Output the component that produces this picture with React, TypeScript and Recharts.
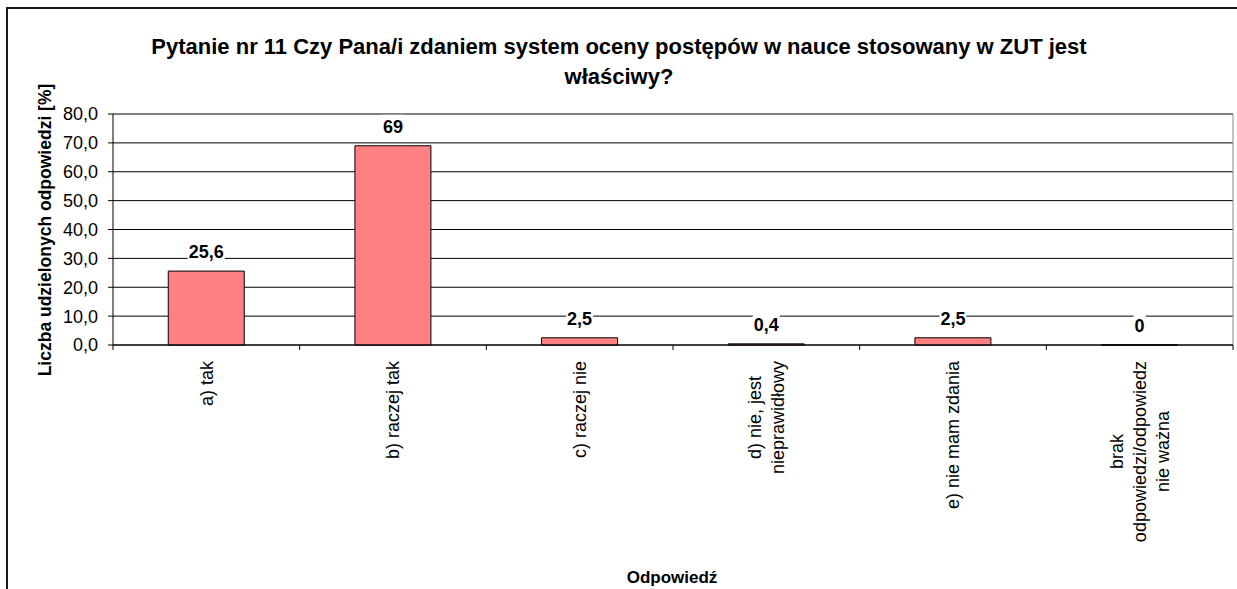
import React from "react";
import { BarChart, Bar, XAxis, YAxis, CartesianGrid, LabelList } from "recharts";

const categories = [
  "a) tak",
  "b) raczej tak",
  "c) raczej nie",
  "d) nie, jest\nnieprawidłowy",
  "e) nie mam zdania",
  "brak\nodpowiedzi/odpowiedz\nnie ważna",
];
const values = [25.6, 69, 2.5, 0.4, 2.5, 0];
const yTicks = [0, 10, 20, 30, 40, 50, 60, 70, 80];

const titleLines = [
  "Pytanie nr 11 Czy Pana/i zdaniem system oceny postępów w nauce stosowany w ZUT jest",
  "właściwy?",
];
const yTitle = "Liczba udzielonych odpowiedzi [%]";
const xTitle = "Odpowiedź";

const data = categories.map((c, i) => ({ name: c, value: values[i] }));

const FONT = "'Liberation Sans', Arial, sans-serif";
const W = 1237;
const H = 589;
const PLOT_LEFT = 113;
const PLOT_RIGHT = 1233;
const PLOT_TOP = 114;
const PLOT_BOTTOM = 345;
const BAND = (PLOT_RIGHT - PLOT_LEFT) / categories.length;
const TICK_FS = 18;
const LINE_H = 23;

let ctx: CanvasRenderingContext2D | null = null;
function measure(text: string, font: string): number {
  if (!ctx) {
    const c = document.createElement("canvas");
    ctx = c.getContext("2d");
  }
  if (!ctx) return text.length * 9;
  ctx.font = font;
  return ctx.measureText(text).width;
}

const fmt = (v: number) => String(v).replace(".", ",");

function XTick(props: any) {
  const { x, y, payload, index } = props;
  const lines: string[] = String(payload.value).split("\n");
  const maxW = Math.max(...lines.map((l) => measure(l, `${TICK_FS}px Liberation Sans`)));
  const top = y + 8;
  const n = lines.length;
  return (
    <g>
      <line x1={x - BAND / 2} x2={x - BAND / 2} y1={PLOT_BOTTOM} y2={PLOT_BOTTOM + 5} stroke="#000" />
      {index === categories.length - 1 && (
        <line x1={x + BAND / 2} x2={x + BAND / 2} y1={PLOT_BOTTOM} y2={PLOT_BOTTOM + 5} stroke="#000" />
      )}
      <g transform={`translate(${x},${top}) rotate(-90)`}>
        {lines.map((l, i) => (
          <text
            key={i}
            x={-maxW / 2}
            y={(i - (n - 1) / 2) * LINE_H}
            dy="0.35em"
            textAnchor="middle"
            fontSize={TICK_FS}
            fontFamily={FONT}
            fill="#000"
          >
            {l}
          </text>
        ))}
      </g>
    </g>
  );
}

function ValueLabel(props: any) {
  const { x, y, width, value } = props;
  if (x == null || y == null) return null;
  const cx = x + width / 2;
  const cy = y - 19;
  const txt = fmt(Number(value));
  const fs = 18;
  const w = measure(txt, `bold ${fs}px Liberation Sans`);
  return (
    <g>
      <rect x={cx - w / 2 - 1} y={cy - 12} width={w + 2} height={22} fill="#fff" />
      <text
        x={cx}
        y={cy}
        dy="0.35em"
        textAnchor="middle"
        fontSize={fs}
        fontWeight="bold"
        fontFamily={FONT}
        fill="#000"
      >
        {txt}
      </text>
    </g>
  );
}

export default function App() {
  return (
    <div style={{ position: "absolute", left: 0, top: 0, width: W, height: H, background: "#fff", overflow: "hidden" }}>
      <div
        style={{
          position: "absolute",
          left: 6,
          top: 7,
          width: 1300,
          height: 700,
          border: "2px solid #1a1a1a",
          boxSizing: "border-box",
        }}
      />
      <div
        style={{
          position: "absolute",
          left: 0,
          top: 32,
          width: 1238,
          textAlign: "center",
          fontFamily: FONT,
          fontWeight: "bold",
          fontSize: 22,
          lineHeight: "30px",
          color: "#000",
        }}
      >
        {titleLines.map((t, i) => (
          <div key={i}>{t}</div>
        ))}
      </div>
      <div style={{ position: "absolute", left: 0, top: 0 }}>
        <BarChart
          width={W}
          height={H}
          data={data}
          margin={{ top: PLOT_TOP, right: W - PLOT_RIGHT, bottom: 0, left: 0 }}
          barCategoryGap="29.6%"
        >
          <CartesianGrid horizontal={true} vertical={false} stroke="#000" strokeWidth={1} />
          <CartesianGrid
            horizontal={false}
            vertical={true}
            stroke="#888"
            verticalCoordinatesGenerator={({ offset }: any) => [offset.left + offset.width]}
          />
          <YAxis
            width={PLOT_LEFT}
            domain={[0, 80]}
            ticks={yTicks}
            interval={0}
            tickFormatter={(v: number) => v.toFixed(1).replace(".", ",")}
            tick={{ fontSize: 18, fontFamily: FONT, fill: "#000" }}
            tickSize={5}
            tickMargin={10}
            tickLine={{ stroke: "#000" }}
            axisLine={{ stroke: "#000" }}
            label={{
              content: () => (
                <text
                  x={45}
                  y={230}
                  transform="rotate(-90, 45, 230)"
                  textAnchor="middle"
                  dy="0.35em"
                  fontSize={17.5}
                  fontWeight="bold"
                  fontFamily={FONT}
                  fill="#000"
                >
                  {yTitle}
                </text>
              ),
            }}
          />
          <XAxis
            dataKey="name"
            height={H - PLOT_BOTTOM}
            interval={0}
            tickLine={false}
            axisLine={{ stroke: "#000" }}
            tick={<XTick />}
            label={{
              content: () => (
                <text
                  x={672}
                  y={577}
                  textAnchor="middle"
                  dy="0.35em"
                  fontSize={17}
                  fontWeight="bold"
                  fontFamily={FONT}
                  fill="#000"
                >
                  {xTitle}
                </text>
              ),
            }}
          />
          <Bar
            dataKey="value"
            fill="#FF8080"
            stroke="#000"
            strokeWidth={1}
            minPointSize={0.01}
            isAnimationActive={false}
          >
            <LabelList dataKey="value" content={(p: any) => <ValueLabel {...p} />} />
          </Bar>
        </BarChart>
      </div>
    </div>
  );
}
